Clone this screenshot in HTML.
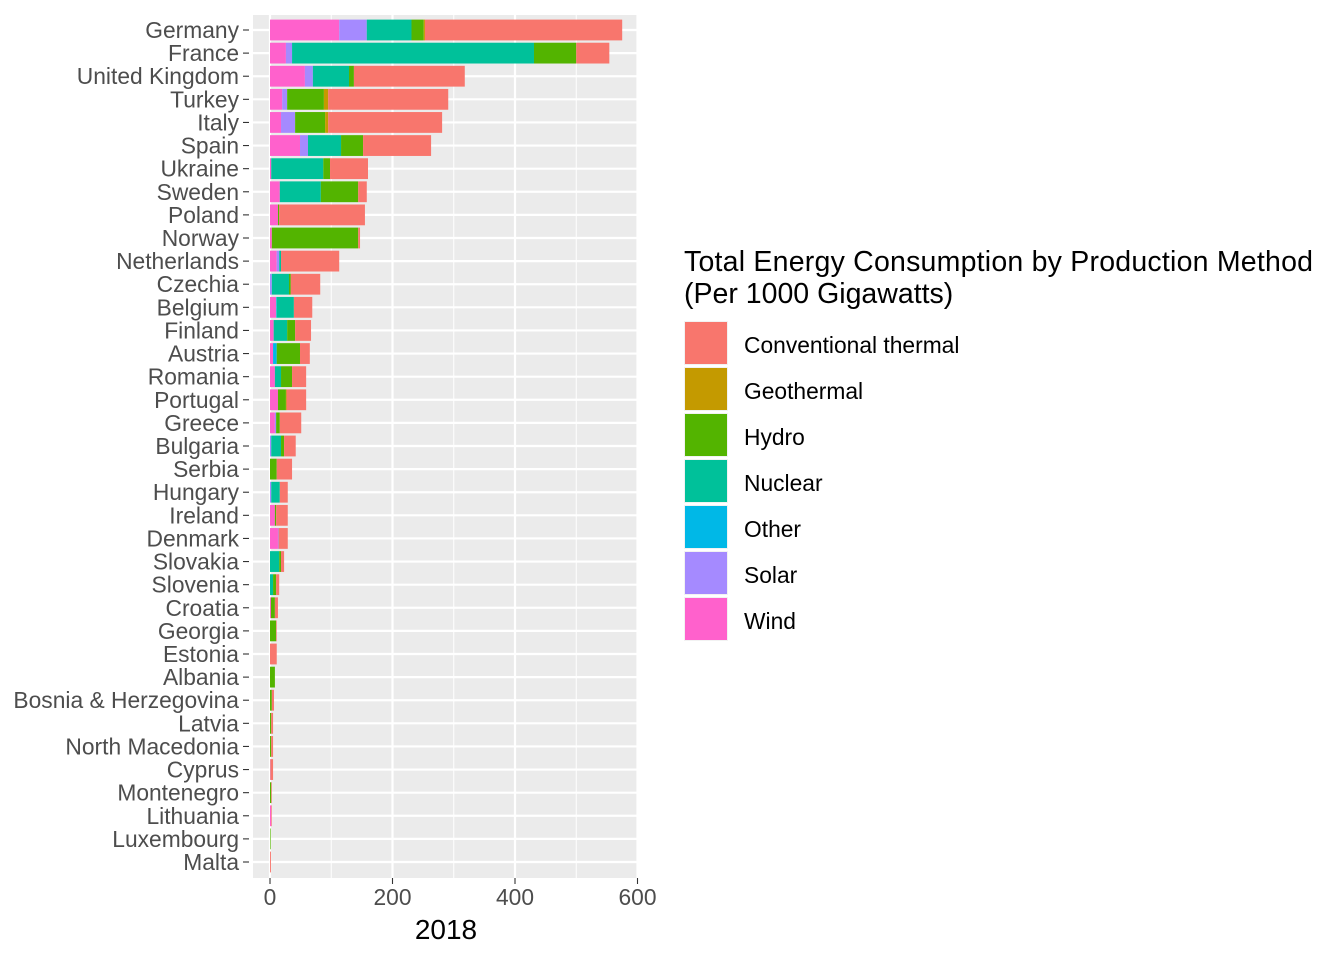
<!DOCTYPE html>
<html><head><meta charset="utf-8"><style>body{margin:0;background:#fff}svg text{font-family:"Liberation Sans",Arial,sans-serif}</style></head>
<body>
<svg id="chart" width="1344" height="960" xmlns="http://www.w3.org/2000/svg"></svg>
<script>
const countries=["Germany","France","United Kingdom","Turkey","Italy","Spain","Ukraine","Sweden","Poland","Norway","Netherlands","Czechia","Belgium","Finland","Austria","Romania","Portugal","Greece","Bulgaria","Serbia","Hungary","Ireland","Denmark","Slovakia","Slovenia","Croatia","Georgia","Estonia","Albania","Bosnia & Herzegovina","Latvia","North Macedonia","Cyprus","Montenegro","Lithuania","Luxembourg","Malta"];
const series=["Wind","Solar","Other","Nuclear","Hydro","Geothermal","Conventional thermal"];
const wind=[113,26,57,20,18,49,2,16,13,3,11,0,10,6,5,8,13,8,0,0,0,8,13,0,0,1.5,0,0,0,0,0,0,0,0,2,0,0];
const solar=[45,10,13,8,23,13,0,0,0,0,4,3,0,0,0,0,0,2,2,0,2,0,1,0,0,0,0,0,0,0,0,0,0.5,0,0,0,0];
const other=[0,0,0,0,0,0,0,0,0,0,0,0,1,0,6,0,0,0,0,0,0,0,0,0,0,0,0,0,0,0,0,0,0,0,0,0,0];
const nuclear=[73,395,59,0,0,54,85,67,0,0,3,28,28,22,0,10,0,0,16,0,14,0,0,15,5,0,0,0,0,0,0,0,0,0,0,0,0];
const hydro=[20,69,8,60,49,36,11,61,2,141,0,3,0,13,38,18,13,6,5,11,0,2,0,3,5,6.5,10,0,8,3,2,2,0,2,0,1,0];
const geothermal=[2,0,0,7,5,0,0,0,0,0,0,0,0,0,0,0,1,0,0,0,0,0,0,0,0,0,0,0,0,0,0,0,0,0,0,0,0];
const thermal=[322,54,181,196,186,111,62,14,140,3,95,48,30,26,16,23,32,35,19,25,13,19,15,5,5,5,1,11,0,3.5,3,3,4.5,1,1,0,1.5];
const values=[wind,solar,other,nuclear,hydro,geothermal,thermal];
const colors={"Wind":"#FF61CC","Solar":"#A58AFF","Other":"#00B8E7","Nuclear":"#00C19A","Hydro":"#53B400","Geothermal":"#C49A00","Conventional thermal":"#F8766D"};
const legendOrder=["Conventional thermal","Geothermal","Hydro","Nuclear","Other","Solar","Wind"];
const xTicks=[0,200,400,600];

const NS="http://www.w3.org/2000/svg";
const svg=document.getElementById('chart');
const P={l:253,r:638,t:15,b:878};
const x=v=>270+v*(515-270)/400;
const rowStep=(862-30)/(countries.length-1);
const y=i=>30+i*rowStep;
function el(tag,attrs,parent){const e=document.createElementNS(NS,tag);for(const k in attrs)e.setAttribute(k,attrs[k]);(parent||svg).appendChild(e);return e;}

const bg=el('rect',{x:P.l,y:P.t,width:P.r-P.l,height:P.b-P.t,fill:'#EBEBEB'});


[100,300,500].forEach(v=>{const g=el('line',{x1:x(v),x2:x(v),y1:P.t,y2:P.b,stroke:'#fff','stroke-width':1});

});
xTicks.forEach(v=>{const g=el('line',{x1:x(v),x2:x(v),y1:P.t,y2:P.b,stroke:'#fff','stroke-width':2.2});

});
countries.forEach((c,i)=>{const g=el('line',{x1:P.l,x2:P.r,y1:y(i),y2:y(i),stroke:'#fff','stroke-width':2.2});

});
const bh=rowStep*0.9;
countries.forEach((c,i)=>{
  let acc=0;
  series.forEach((s,k)=>{
    const v=values[k][i];
    if(v>0){const r=el('rect',{x:x(acc),y:y(i)-bh/2,width:x(acc+v)-x(acc),height:bh,fill:colors[s]});
    
    }
    acc+=v;
  });
  const t=el('line',{x1:243,x2:249,y1:y(i),y2:y(i),stroke:'#333','stroke-width':1.1});
  
  
  const lb=el('text',{x:239,y:y(i)+8,'text-anchor':'end','font-size':22.8,fill:'#4D4D4D'});lb.textContent=c;
  
  
});
xTicks.forEach(v=>{
  const t=el('line',{x1:x(v),x2:x(v),y1:P.b,y2:P.b+6,stroke:'#333','stroke-width':1.1});
  
  
  const lb=el('text',{x:x(v),y:905,'text-anchor':'middle','font-size':22.8,fill:'#4D4D4D'});lb.textContent=v;
  
  
});
const xt=el('text',{x:446,y:939,'text-anchor':'middle','font-size':28,fill:'#000'});xt.textContent='2018';


const lt1=el('text',{x:684,y:271,'font-size':28.5,fill:'#000',textLength:629});lt1.textContent='Total Energy Consumption by Production Method';


const lt2=el('text',{x:684,y:303,'font-size':28.5,fill:'#000'});lt2.textContent='(Per 1000 Gigawatts)';


legendOrder.forEach((s,i)=>{
  const yy=321+i*46;
  const bx=el('rect',{x:684,y:yy,width:44,height:44,fill:'#F2F2F2'});
  
  
  const k=el('rect',{x:685,y:yy+1,width:42,height:42,fill:colors[s]});
  
  
  const t=el('text',{x:744,y:yy+32,'font-size':22.8,fill:'#000'});t.textContent=s;
  
  
});
</script>
</body></html>
